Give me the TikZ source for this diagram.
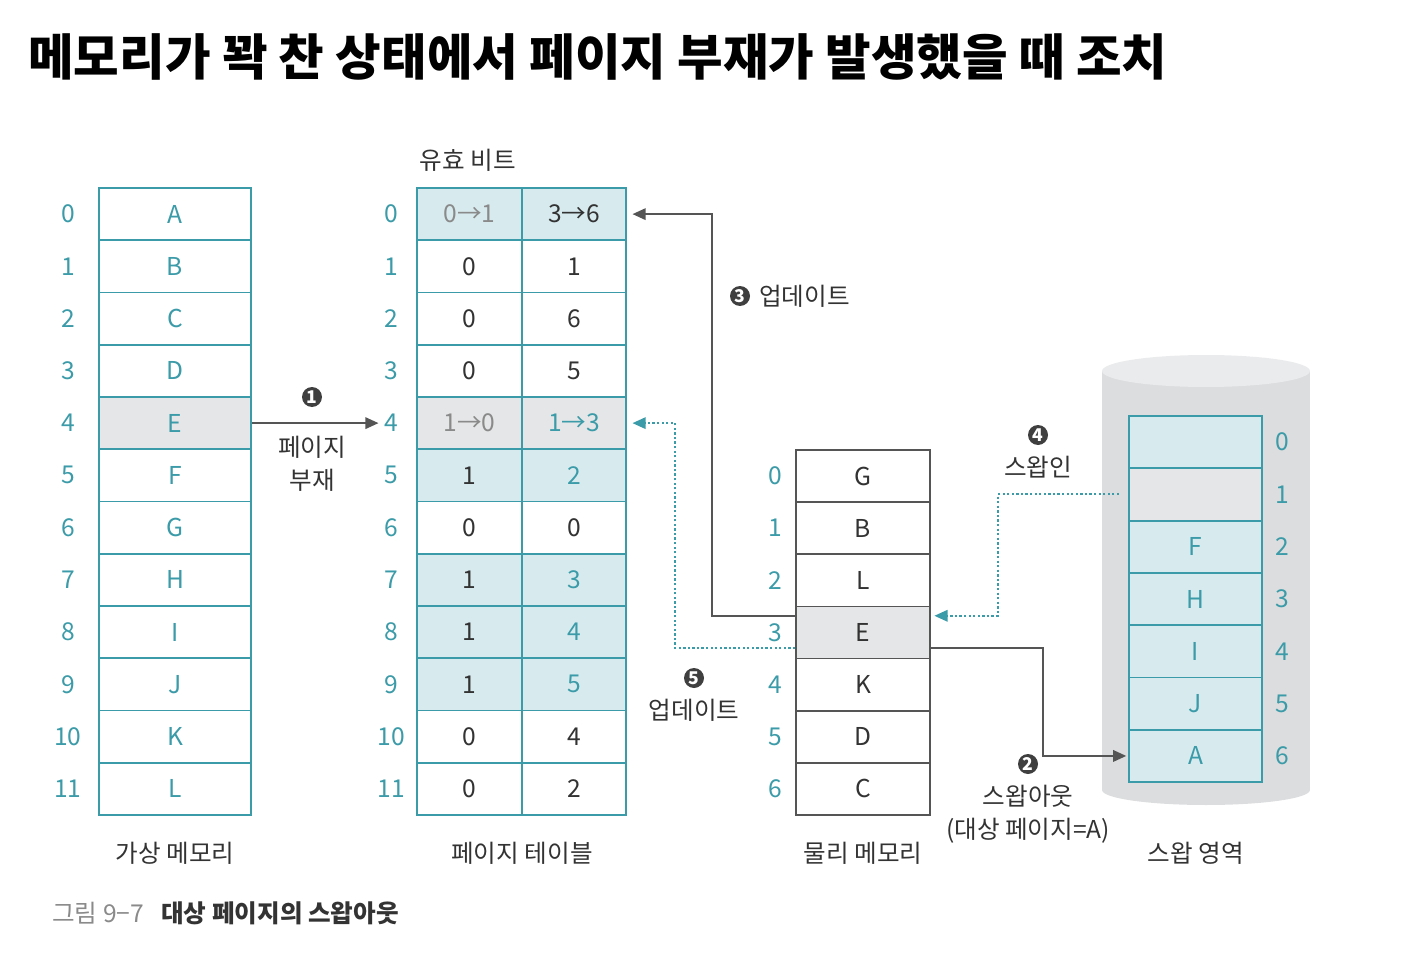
\documentclass[tikz,border=0pt]{standalone}
\usepackage{fontspec}
\setmainfont{Noto Sans CJK KR}
\usetikzlibrary{arrows.meta,calc}
\definecolor{teal0}{HTML}{3C9BA8}
\definecolor{tealfill}{HTML}{D7EBEF}
\definecolor{grayfill}{HTML}{E5E6E7}
\definecolor{txt}{HTML}{333333}
\definecolor{gtxt}{HTML}{8A8A8A}
\definecolor{lineg}{HTML}{555555}
\definecolor{cylbody}{HTML}{DCDDDE}
\definecolor{cyltop}{HTML}{EAEBEC}
\definecolor{numfill}{HTML}{3F3F3F}
\newcommand\myNum{\fontsize{14}{16}\selectfont}
\newcommand\myKor{\fontsize{14}{19}\selectfont}
\tikzset{
  vcell/.style={draw=teal0, line width=1.1pt, minimum width=3.04cm, minimum height=1.045cm, inner sep=0pt, text=teal0, font=\myNum},
  tcell/.style={draw=teal0, line width=1.1pt, minimum width=2.09cm, minimum height=1.045cm, inner sep=0pt, font=\myNum},
  pcell/.style={draw=lineg, line width=1pt, minimum width=2.68cm, minimum height=1.043cm, inner sep=0pt, text=txt, font=\myNum},
  scell/.style={draw=teal0, line width=1.1pt, minimum width=2.66cm, minimum height=1.046cm, inner sep=0pt, text=teal0, font=\myNum},
  idx/.style={text=teal0, font=\myNum, inner sep=0pt},
  lbl/.style={text=txt, font=\myKor, align=center, inner sep=0pt},
  numc/.style={circle, fill=numfill, text=white, inner sep=0pt, minimum size=0.4cm, font=\fontsize{10}{10}\selectfont\bfseries},
  arr/.style={draw=lineg, line width=1.2pt, -{Triangle[length=7.5pt,width=6.5pt]}},
  dotarr/.style={draw=teal0, line width=1.1pt, dash pattern=on 1.3pt off 1.3pt, -{Triangle[length=7.5pt,width=6.5pt]}}
}
\begin{document}
\begin{tikzpicture}[x=0.02cm,y=-0.02cm]
\useasboundingbox (0,0) rectangle (1404,960);

% title
\node[anchor=west, inner sep=0pt, font=\fontsize{28.2}{32}\selectfont\bfseries] (title) at (28,57) {메모리가 꽉 찬 상태에서 페이지 부재가 발생했을 때 조치};

% virtual memory
\foreach \i/\t/\f in {0/A/white,1/B/white,2/C/white,3/D/white,4/E/grayfill,5/F/white,6/G/white,7/H/white,8/I/white,9/J/white,10/K/white,11/L/white} {
  \node[vcell, fill=\f] (v\i) at (175,{188+52.25*(\i+0.5)}) {\t};
  \node[idx] (vl\i) at (68,{188+52.25*(\i+0.5)}) {\i};
}
\node[lbl] (vlab) at (175,853) {가상 메모리};

% page table
\foreach \i/\a/\b/\f/\ca/\cb in {0/0→1/3→6/tealfill/gtxt/txt,1/0/1/white/txt/txt,2/0/6/white/txt/txt,3/0/5/white/txt/txt,4/1→0/1→3/grayfill/gtxt/teal0,5/1/2/tealfill/txt/teal0,6/0/0/white/txt/txt,7/1/3/tealfill/txt/teal0,8/1/4/tealfill/txt/teal0,9/1/5/tealfill/txt/teal0,10/0/4/white/txt/txt,11/0/2/white/txt/txt} {
  \node[tcell, fill=\f, text=\ca] (ta\i) at (469.5,{188+52.25*(\i+0.5)}) {\a};
  \node[tcell, fill=\f, text=\cb] (tb\i) at (574,{188+52.25*(\i+0.5)}) {\b};
  \node[idx] (tl\i) at (391,{188+52.25*(\i+0.5)}) {\i};
}
\node[lbl] (vbit) at (468,160) {유효 비트};
\node[lbl] (tlab) at (522,853) {페이지 테이블};

% physical memory
\foreach \i/\t/\f in {0/G/white,1/B/white,2/L/white,3/E/grayfill,4/K/white,5/D/white,6/C/white} {
  \node[pcell, fill=\f] (p\i) at (863,{450+52.14*(\i+0.5)}) {\t};
  \node[idx] (pl\i) at (775,{450+52.14*(\i+0.5)}) {\i};
}
\node[lbl] (plab) at (863,853) {물리 메모리};

% swap area cylinder
\fill[cylbody] (1102,371) rectangle (1310,790);
\fill[cylbody] (1206,790) ellipse [x radius=2.08cm, y radius=0.3cm];
\fill[cyltop] (1206,371) ellipse [x radius=2.08cm, y radius=0.32cm];
\foreach \i/\t/\f in {0//tealfill,1//grayfill,2/F/tealfill,3/H/tealfill,4/I/tealfill,5/J/tealfill,6/A/tealfill} {
  \node[scell, fill=\f] (s\i) at (1195.5,{416+52.3*(\i+0.5)}) {\t};
  \node[idx] (sl\i) at (1282,{416+52.3*(\i+0.5)}) {\i};
}
\node[lbl] (slab) at (1196,853) {스왑 영역};

% step 1: page fault
\draw[arr, shorten >=3pt] (v4.east) -- (tl4.west);
\node[numc] (n1) at (312,397) {1};
\node[lbl] (l1) at (312,464) {페이지\\부재};

% step 2: swap out
\coordinate (s2a) at ($(p3.north east)!0.79!(p3.south east)$);
\draw[arr, shorten >=1pt] (s2a) -| ([xshift=-1.7cm]s6.west) -- (s6.west);
\node[numc] (n2) at (1028,764) {2};
\node[lbl] (l2) at (1028,814) {스왑아웃\\(대상 페이지=A)};

% step 3: update
\coordinate (s3a) at ($(p3.north west)!0.19!(p3.south west)$);
\draw[arr, shorten >=3pt] (s3a) -| ([xshift=1.7cm]tb0.east) -- (tb0.east);
\node[numc] (n3) at (740,296) {3};
\node[lbl, anchor=west] (l3) at (759,296) {업데이트};

% step 4: swap in
\coordinate (s4a) at ([xshift=-0.18cm]s1.west);
\coordinate (s4b) at ($(p3.north east)!0.19!(p3.south east)$);
\draw[dotarr, shorten >=2pt] (s4a) -| ([xshift=1.34cm]s4b) -- (s4b);
\node[numc] (n4) at (1038,435) {4};
\node[lbl] (l4) at (1038,467) {스왑인};

% step 5: update
\coordinate (s5a) at ($(p3.north west)!0.79!(p3.south west)$);
\draw[dotarr, shorten >=3pt] (s5a) -| ([xshift=0.96cm]tb4.east) -- (tb4.east);
\node[numc] (n5) at (694,678) {5};
\node[lbl] (l5) at (694,710) {업데이트};

% caption
\node[anchor=west, inner sep=0pt, font=\myKor] (cap) at (52,913) {\textcolor{gtxt}{그림 9−7}\hspace{0.7em}\textcolor{txt}{\bfseries 대상 페이지의 스왑아웃}};
\end{tikzpicture}
\end{document}
